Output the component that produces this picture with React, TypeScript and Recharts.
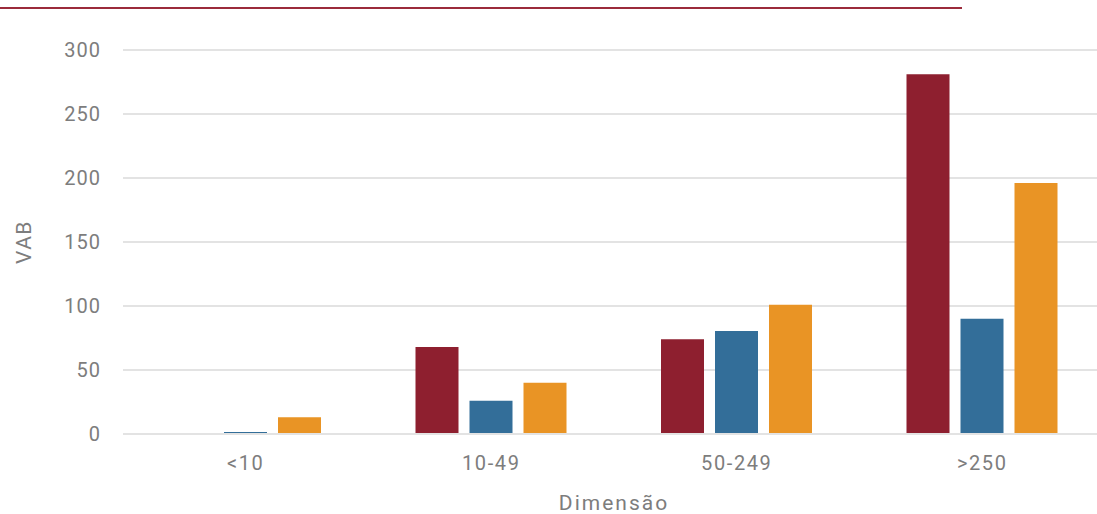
import { BarChart, Bar, XAxis, YAxis, CartesianGrid } from "recharts"

const categories = ["<10", "10-49", "50-249", ">250"]
const seriesA = [0, 68, 74, 281]
const seriesB = [1.5, 26, 80.5, 90]
const seriesC = [13, 40, 101, 196]
const yTicks = [0, 50, 100, 150, 200, 250, 300]

const data = categories.map((name, i) => ({
  name,
  a: seriesA[i],
  b: seriesB[i],
  c: seriesC[i],
}))

const textColor = "#7d7d7d"
const font = "Roboto, 'DejaVu Sans', sans-serif"

export default function App() {
  return (
    <div style={{ position: "absolute", left: 0, top: 0, width: 1097, height: 514, overflow: "hidden", background: "#fff", fontFamily: font }}>
      <div style={{ position: "absolute", left: 0, top: 7, width: 962, height: 2, background: "#9b2b3b" }} />
      <BarChart
        width={1105}
        height={514}
        data={data}
        margin={{ top: 50, right: 0, left: 0, bottom: 0 }}
        barSize={43}
        barGap={11}
      >
        <CartesianGrid vertical={false} stroke="#e3e3e3" strokeWidth={2} />
        <XAxis
          dataKey="name"
          height={80}
          axisLine={{ stroke: "#e3e3e3", strokeWidth: 2 }}
          tickLine={false}
          tickSize={0}
          tickMargin={22}
          tick={{ fill: textColor, fontSize: 20, fontFamily: font, letterSpacing: 1.6 }}
          label={{ value: "Dimensão", position: "insideBottom", offset: 4, fill: textColor, fontSize: 21, fontFamily: font, letterSpacing: 2 }}
        />
        <YAxis
          width={123}
          domain={[0, 300]}
          ticks={yTicks}
          axisLine={false}
          tickLine={false}
          tickSize={0}
          tickMargin={22}
          tick={{ fill: textColor, fontSize: 20, fontFamily: font, letterSpacing: 1 }}
          label={{ value: "VAB", angle: -90, position: "insideLeft", offset: 24, fill: textColor, fontSize: 21, fontFamily: font, letterSpacing: 1.5, style: { textAnchor: "middle" } }}
        />
        <Bar dataKey="a" fill="#8e1f2f" isAnimationActive={false} />
        <Bar dataKey="b" fill="#336e99" isAnimationActive={false} />
        <Bar dataKey="c" fill="#e99425" isAnimationActive={false} />
      </BarChart>
    </div>
  )
}
